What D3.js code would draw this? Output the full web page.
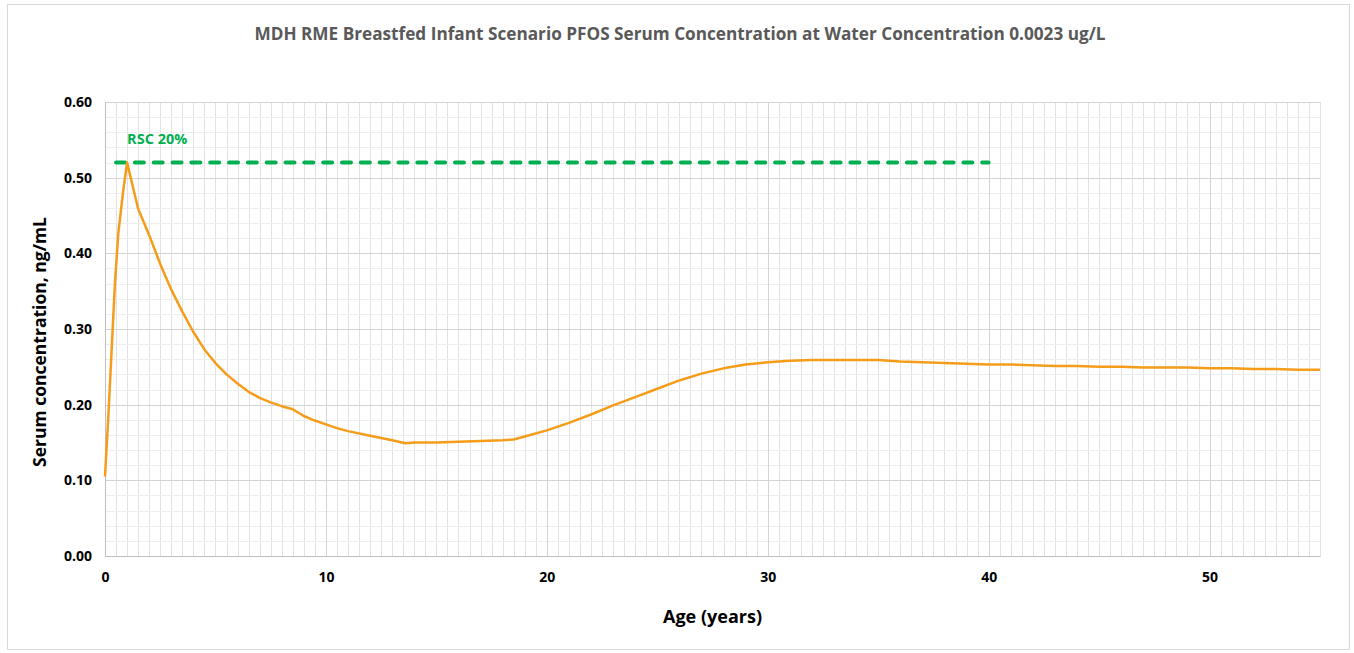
<!DOCTYPE html>
<html>
<head>
<meta charset="utf-8">
<script src="https://cdn.jsdelivr.net/npm/d3@7"></script>
<style>
  body { margin: 0; background: #fff; }
  text { font-family: "Open Sans", "DejaVu Sans", sans-serif; }
</style>
</head>
<body>
<script>
// chart data
var ages = [0, 0.15, 0.3, 0.45, 0.6, 0.83, 1.0, 1.5, 2.0, 2.5, 3.0, 3.5, 4.0, 4.5, 5.0,
            5.5, 6.0, 6.5, 7.0, 7.5, 8.0, 8.5, 9.0, 9.5, 10, 10.5, 11, 12, 13, 13.6,
            14, 15, 16, 17, 18, 18.5, 19, 20, 21, 22, 23, 24, 25, 26, 27, 28, 29, 30,
            31, 32, 33, 34, 35, 36, 37, 38, 39, 40, 41, 42, 43, 44, 45, 46, 47, 48,
            49, 50, 51, 52, 53, 54, 55];
var serum = [0.105, 0.184, 0.272, 0.36, 0.426, 0.484, 0.52, 0.459, 0.424, 0.386, 0.352, 0.323, 0.296, 0.273, 0.255,
             0.240, 0.228, 0.217, 0.209, 0.203, 0.198, 0.194, 0.185, 0.179, 0.174, 0.169, 0.165, 0.159, 0.153, 0.149,
             0.150, 0.150, 0.151, 0.152, 0.153, 0.154, 0.158, 0.166, 0.176, 0.187, 0.199, 0.210, 0.221, 0.232, 0.241, 0.248, 0.253, 0.256,
             0.258, 0.259, 0.259, 0.259, 0.259, 0.257, 0.256, 0.255, 0.254, 0.253, 0.253, 0.252, 0.251, 0.251, 0.250, 0.250, 0.249, 0.249,
             0.249, 0.248, 0.248, 0.247, 0.247, 0.246, 0.246];

var rscAges = [0.5, 40];
var rscValue = 0.52;
var rscLabel = "RSC 20%";

var xTicks = [0, 10, 20, 30, 40, 50];
var yTicks = [0, 0.1, 0.2, 0.3, 0.4, 0.5, 0.6];

var title = "MDH RME Breastfed Infant Scenario PFOS Serum Concentration at Water Concentration 0.0023 ug/L";
var xTitle = "Age (years)";
var yTitle = "Serum concentration, ng/mL";


// layout
var W = 1354, H = 653;
var margin = {top: 102, right: 34, bottom: 97, left: 105},
    width = W - margin.left - margin.right,
    height = H - margin.top - margin.bottom;

var x = d3.scaleLinear().domain([0, 55]).range([0, width]);
var y = d3.scaleLinear().domain([0, 0.6]).range([height, 0]);

var svg = d3.select("body").append("svg")
            .attr("width", W)
            .attr("height", H);

// outer chart border
svg.append("rect")
   .attr("x", 7.5).attr("y", 4.5)
   .attr("width", 1342).attr("height", 645)
   .attr("fill", "#fff")
   .attr("stroke", "#d9d9d9");

svg.append("text")
   .attr("x", 680).attr("y", 40)
   .attr("text-anchor", "middle")
   .attr("font-size", 17.2)
   .attr("font-weight", "bold")
   .attr("fill", "#595959")
   .text(title);

var g = svg.append("g")
           .attr("transform", "translate(" + margin.left + "," + margin.top + ")");

// minor grid
g.append("g").selectAll("line")
 .data(d3.range(0, 55.01, 0.5))
 .enter().append("line")
 .attr("x1", function(d) { return Math.round(x(d)) + 0.5; })
 .attr("x2", function(d) { return Math.round(x(d)) + 0.5; })
 .attr("y1", 0).attr("y2", height)
 .attr("stroke", "#e2e2e2");

g.append("g").selectAll("line")
 .data(d3.range(0, 0.601, 0.02))
 .enter().append("line")
 .attr("x1", 0).attr("x2", width)
 .attr("y1", function(d) { return Math.round(y(d)) + 0.5; })
 .attr("y2", function(d) { return Math.round(y(d)) + 0.5; })
 .attr("stroke", "#eeeeee");

// major grid
g.append("g").selectAll("line")
 .data(xTicks)
 .enter().append("line")
 .attr("x1", function(d) { return Math.round(x(d)) + 0.5; })
 .attr("x2", function(d) { return Math.round(x(d)) + 0.5; })
 .attr("y1", 0).attr("y2", height)
 .attr("stroke", "#d4d4d4");

g.append("g").selectAll("line")
 .data(yTicks)
 .enter().append("line")
 .attr("x1", 0).attr("x2", width)
 .attr("y1", function(d) { return Math.round(y(d)) + 0.5; })
 .attr("y2", function(d) { return Math.round(y(d)) + 0.5; })
 .attr("stroke", "#d4d4d4");

// axes
var xAxis = g.append("g")
   .attr("class", "x axis")
   .attr("transform", "translate(0," + height + ")")
   .call(d3.axisBottom(x).tickValues(xTicks).tickSize(0).tickPadding(16).tickFormat(d3.format("d")));

var yAxis = g.append("g")
   .attr("class", "y axis")
   .call(d3.axisLeft(y).tickValues(yTicks).tickSize(0).tickPadding(13).tickFormat(d3.format(".2f")));

[xAxis, yAxis].forEach(function(a) {
  a.select(".domain").attr("stroke", "#bfbfbf");
  a.selectAll("text")
   .attr("font-size", 14)
   .attr("font-weight", "bold")
   .attr("font-family", "'Open Sans', sans-serif")
   .attr("fill", "#000");
});

// RSC line
g.append("path")
 .datum(rscAges)
 .attr("d", d3.line().x(function(d) { return x(d); }).y(function() { return y(rscValue); }))
 .attr("fill", "none")
 .attr("stroke", "#00b050")
 .attr("stroke-width", 4)
 .attr("stroke-linecap", "round")
 .attr("stroke-dasharray", "9,9.83");

g.append("text")
 .attr("x", x(1.0)).attr("y", y(rscValue) - 19)
 .attr("font-size", 14.5)
 .attr("font-weight", "bold")
 .attr("fill", "#00b050")
 .text(rscLabel);

// serum curve
g.append("path")
 .datum(d3.zip(ages, serum))
 .attr("d", d3.line().x(function(d) { return x(d[0]); }).y(function(d) { return y(d[1]); }))
 .attr("fill", "none")
 .attr("stroke", "#f59c1a")
 .attr("stroke-width", 2.5)
 .attr("stroke-linejoin", "round");

// axis titles
svg.append("text")
   .attr("x", margin.left + width / 2).attr("y", 623)
   .attr("text-anchor", "middle")
   .attr("font-size", 18)
   .attr("font-weight", "bold")
   .attr("fill", "#000")
   .text(xTitle);

svg.append("text")
   .attr("transform", "translate(46,342) rotate(-90)")
   .attr("text-anchor", "middle")
   .attr("font-size", 17.5)
   .attr("font-weight", "bold")
   .attr("fill", "#000")
   .text(yTitle);
</script>
</body>
</html>
